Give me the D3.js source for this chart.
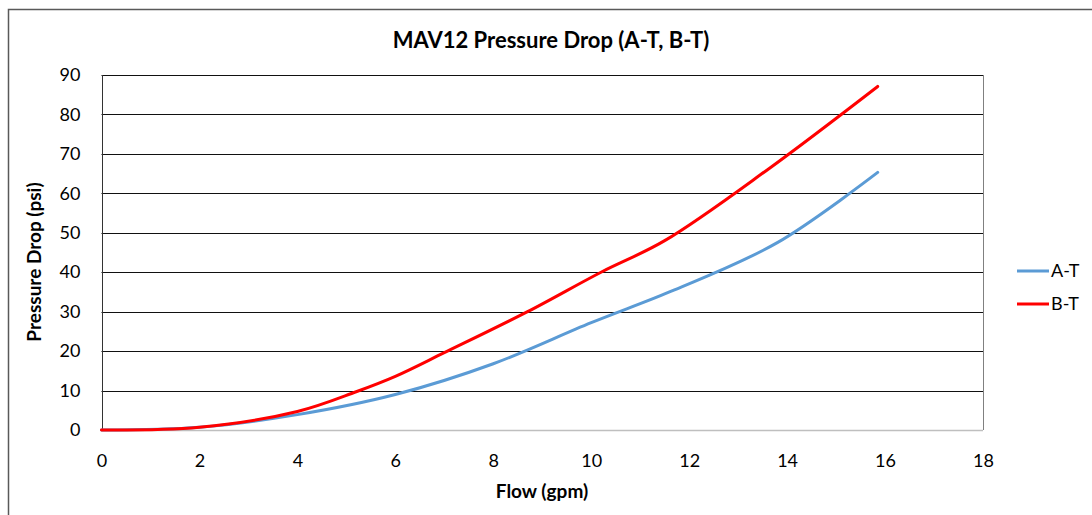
<!DOCTYPE html>
<html>
<head>
    <script src="https://cdn.jsdelivr.net/npm/d3@7"></script>
    <style>
        body { margin: 0; background: white; font-family: Lato, "Open Sans", Arial, sans-serif; }
    </style>
</head>
<body>
<svg id="chart"></svg>
<script>
    // Values
    let flowAT = [0, 2, 4, 6, 8, 10, 11.7, 13.8, 15.85];
    let dropAT = [0, 0.7, 3.9, 9, 16.8, 27.2, 35.5, 47.5, 65.3];
    let flowBT = [0, 2, 4, 5.2, 6, 7, 8.7, 10.2, 11.5, 13.6, 15.85];
    let dropBT = [0, 0.7, 4.7, 9.7, 13.6, 19.6, 30, 40, 48, 66, 87.1];
    let seriesNames = ["A-T", "B-T"];
    let seriesColors = ["#5b9bd5", "#ff0000"];
    let xTicks = [0, 2, 4, 6, 8, 10, 12, 14, 16, 18];
    let yTicks = [0, 10, 20, 30, 40, 50, 60, 70, 80, 90];

    let width = 1092, height = 515;
    let margin = { top: 75, right: 109, bottom: 85, left: 101.5 };

    let svg = d3.select("#chart")
        .attr("width", width)
        .attr("height", height);

    // outer chart border (cropped on right and bottom)
    svg.append("path")
        .attr("d", `M8.5,${height + 5} L8.5,9.5 L${width + 5},9.5`)
        .attr("fill", "none")
        .attr("stroke", "#595959")
        .attr("stroke-width", 1.5);

    let x = d3.scaleLinear().domain([0, 18]).range([margin.left, width - margin.right]);
    let y = d3.scaleLinear().domain([0, 90]).range([height - margin.bottom, margin.top]);

    // gridlines
    svg.append("g")
        .selectAll("line")
        .data(yTicks.filter(d => d > 0))
        .enter()
        .append("line")
        .attr("x1", x(0))
        .attr("x2", x(18))
        .attr("y1", d => Math.round(y(d)) + 0.5)
        .attr("y2", d => Math.round(y(d)) + 0.5)
        .attr("stroke", "#111")
        .attr("stroke-width", 1);

    // right border of plot area
    svg.append("line")
        .attr("x1", Math.round(x(18)) + 0.5)
        .attr("x2", Math.round(x(18)) + 0.5)
        .attr("y1", y(90))
        .attr("y2", y(0))
        .attr("stroke", "#808080");

    // bottom axis line
    svg.append("line")
        .attr("x1", x(0))
        .attr("x2", x(18))
        .attr("y1", Math.round(y(0)) + 0.5)
        .attr("y2", Math.round(y(0)) + 0.5)
        .attr("stroke", "#bfbfbf")
        .attr("stroke-width", 1.5);

    // left axis line
    svg.append("line")
        .attr("x1", Math.round(x(0)) + 0.5)
        .attr("x2", Math.round(x(0)) + 0.5)
        .attr("y1", y(90))
        .attr("y2", y(0))
        .attr("stroke", "#333");

    let xAxis = d3.axisBottom(x).tickValues(xTicks).tickSize(0).tickPadding(0);
    let xg = svg.append("g")
        .attr("transform", `translate(0,${y(0)})`)
        .call(xAxis);
    xg.select(".domain").remove();
    xg.selectAll("text")
        .attr("y", 0)
        .attr("dy", 0)
        .attr("transform", "translate(0,37)")
        .attr("font-size", 18)
        .attr("font-family", "Lato, 'Open Sans', sans-serif")
        .attr("fill", "#000");

    let yAxis = d3.axisLeft(y).tickValues(yTicks).tickSize(0).tickPadding(21);
    let yg = svg.append("g")
        .attr("transform", `translate(${x(0)},0)`)
        .call(yAxis);
    yg.select(".domain").remove();
    yg.selectAll("text")
        .attr("font-size", 18)
        .attr("font-family", "Lato, 'Open Sans', sans-serif")
        .attr("fill", "#000");

    // lines
    let series = [
        flowAT.map((f, i) => [f, dropAT[i]]),
        flowBT.map((f, i) => [f, dropBT[i]])
    ];
    let line = d3.line()
        .x(d => x(d[0]))
        .y(d => y(d[1]))
        .curve(d3.curveCatmullRom.alpha(0.5));

    series.forEach((s, i) => {
        svg.append("path")
            .datum(s)
            .attr("d", line)
            .attr("fill", "none")
            .attr("stroke", seriesColors[i])
            .attr("stroke-width", 3)
            .attr("stroke-linejoin", "round")
            .attr("stroke-linecap", "round");
    });

    // title
    svg.append("text")
        .attr("x", 551)
        .attr("y", 48)
        .attr("text-anchor", "middle")
        .attr("font-size", 22)
        .attr("font-weight", "bold")
        .text("MAV12 Pressure Drop (A-T, B-T)");

    // axis titles
    svg.append("text")
        .attr("x", 542)
        .attr("y", 498)
        .attr("text-anchor", "middle")
        .attr("font-size", 19)
        .attr("font-weight", "bold")
        .text("Flow (gpm)");

    svg.append("text")
        .attr("transform", "translate(41,262) rotate(-90)")
        .attr("text-anchor", "middle")
        .attr("font-size", 19)
        .attr("font-weight", "bold")
        .text("Pressure Drop (psi)");

    // legend
    let legend = svg.append("g");
    seriesNames.forEach((name, i) => {
        let ly = 271 + i * 33;
        legend.append("line")
            .attr("x1", 1017)
            .attr("x2", 1049)
            .attr("y1", ly)
            .attr("y2", ly)
            .attr("stroke", seriesColors[i])
            .attr("stroke-width", 3);
        legend.append("text")
            .attr("x", 1051)
            .attr("y", ly + 6)
            .attr("font-size", 18)
            .text(name);
    });
</script>
</body>
</html>
